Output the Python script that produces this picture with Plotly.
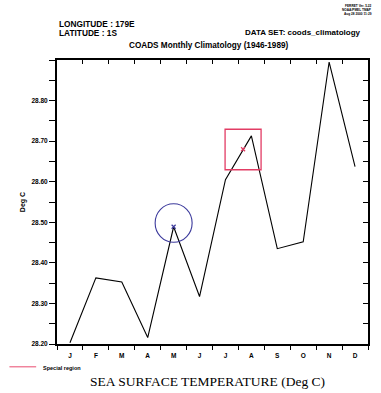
import plotly.graph_objects as go

# Monthly climatological sea surface temperature at 179E, 1S (COADS 1946-1989)
months = list(range(1, 13))
month_labels = ["J", "F", "M", "A", "M", "J", "J", "A", "S", "O", "N", "D"]
sst = [28.203, 28.363, 28.353, 28.216, 28.489, 28.317,
       28.605, 28.713, 28.435, 28.452, 28.895, 28.637]

# Highlighted locations: circled month and the boxed "special region" point
circle_x, circle_y = [5], [28.489]
box_x, box_y = [7.68], [28.680]

ytick_vals = [28.2, 28.3, 28.4, 28.5, 28.6, 28.7, 28.8]
x_range = [0.5, 12.5]
y_range = [28.2, 28.9]

NAVY = "#3c3a9c"
CRIMSON = "#e23c64"
PINK = "#f0849c"
SANS = "Liberation Sans"

fig = go.Figure()

fig.add_trace(go.Scatter(
    x=months, y=sst, mode="lines",
    line=dict(color="black", width=1.1),
    showlegend=False, hoverinfo="skip",
))
fig.add_trace(go.Scatter(
    x=circle_x, y=circle_y, mode="markers",
    marker=dict(symbol="x-thin", size=4, color=NAVY, line=dict(color=NAVY, width=1.2)),
    showlegend=False,
))
fig.add_trace(go.Scatter(
    x=box_x, y=box_y, mode="markers",
    marker=dict(symbol="x-thin", size=4, color=CRIMSON, line=dict(color=CRIMSON, width=1.2)),
    showlegend=False,
))
# invisible trace that activates the mirrored top and right axes
fig.add_trace(go.Scatter(x=x_range, y=y_range, xaxis="x2", yaxis="y2",
                         mode="none", showlegend=False, hoverinfo="skip"))

shapes = []
for cx, cy in zip(circle_x, circle_y):
    shapes.append(dict(
        type="circle", xref="x", yref="y",
        xsizemode="pixel", ysizemode="pixel", xanchor=cx, yanchor=cy,
        x0=-18.5, x1=18.5, y0=-15.5, y1=23,
        line=dict(color=NAVY, width=1.1),
    ))
for bx, by in zip(box_x, box_y):
    shapes.append(dict(
        type="rect", xref="x", yref="y",
        xsizemode="pixel", ysizemode="pixel", xanchor=bx, yanchor=by,
        x0=-18, x1=18, y0=-20.5, y1=20,
        line=dict(color=CRIMSON, width=1.3),
    ))
# legend sample line
shapes.append(dict(type="line", xref="paper", yref="paper",
                   x0=-0.153, x1=-0.067, y0=-0.08, y1=-0.08,
                   line=dict(color=PINK, width=1.5)))

bold = dict(family=SANS, color="black", weight="bold")

fig.update_layout(
    width=381, height=393,
    margin=dict(l=57, r=13, t=59.5, b=48.5),
    paper_bgcolor="white", plot_bgcolor="white",
    showlegend=False,
    shapes=shapes,
    xaxis=dict(
        range=x_range, tickvals=months, ticktext=month_labels,
        ticks="outside", ticklen=0, tickfont=dict(size=6.5, **bold),
        ticklabelstandoff=4,
        showline=True, linecolor="black", linewidth=2,
        showgrid=False, zeroline=False,
        minor=dict(tick0=0.5, dtick=1, ticks="outside", ticklen=4,
                   tickwidth=1.3, tickcolor="black", showgrid=False),
        fixedrange=True,
    ),
    yaxis=dict(
        range=y_range, tickvals=ytick_vals, tickformat=".2f",
        ticks="outside", ticklen=6, tickwidth=1.3, tickcolor="black",
        tickfont=dict(size=6.5, **bold),
        showline=True, linecolor="black", linewidth=2,
        showgrid=False, zeroline=False,
        minor=dict(tick0=28.2, dtick=0.05, ticks="outside", ticklen=6,
                   tickwidth=1.3, tickcolor="black", showgrid=False),
        title=dict(text="Deg C", font=dict(size=7, **bold), standoff=5),
    ),
    xaxis2=dict(
        overlaying="x", side="top", range=x_range,
        tickvals=[m - 0.5 for m in months] + [12.5],
        ticks="inside", ticklen=4, tickwidth=1.3, tickcolor="black",
        showticklabels=False, showline=True, linecolor="black", linewidth=2,
        showgrid=False, zeroline=False,
    ),
    yaxis2=dict(
        overlaying="y", side="right", range=y_range,
        tick0=28.2, dtick=0.05,
        ticks="inside", ticklen=5, tickwidth=1.3, tickcolor="black",
        showticklabels=False, showline=True, linecolor="black", linewidth=2,
        showgrid=False, zeroline=False,
    ),
)


# Header and footer text, positioned in pixels relative to the plot area
def pnote(text, px, py, size, xanchor="left", family=SANS, weight="bold"):
    fig.add_annotation(
        text=text, x=(px - 57) / 311, y=(344.3 - py) / 284.6,
        xref="paper", yref="paper", xanchor=xanchor, yanchor="middle",
        showarrow=False,
        font=dict(family=family, size=size, color="black", weight=weight),
    )


pnote("LONGITUDE : 179E", 57, 24, 8.3)
pnote("LATITUDE : 1S", 57, 32.5, 8.3)
pnote("DATA SET: coods_climatology", 363, 32.5, 8, xanchor="right")
pnote("COADS Monthly Climatology (1946-1989)", 209, 45, 8.2, xanchor="center")
pnote("FERRET Ver. 5.22", 374, 6, 3.2, xanchor="right")
pnote("NOAA/PMEL TMAP", 374, 10, 3.2, xanchor="right")
pnote("Aug 28 2000 11:29", 374, 14, 3.2, xanchor="right")
pnote("Special region", 41, 368, 5.5)
pnote("SEA SURFACE TEMPERATURE (Deg C)", 207, 381.5, 13.5, xanchor="center",
      family="Liberation Serif", weight="normal")

fig.write_html("out.html")
